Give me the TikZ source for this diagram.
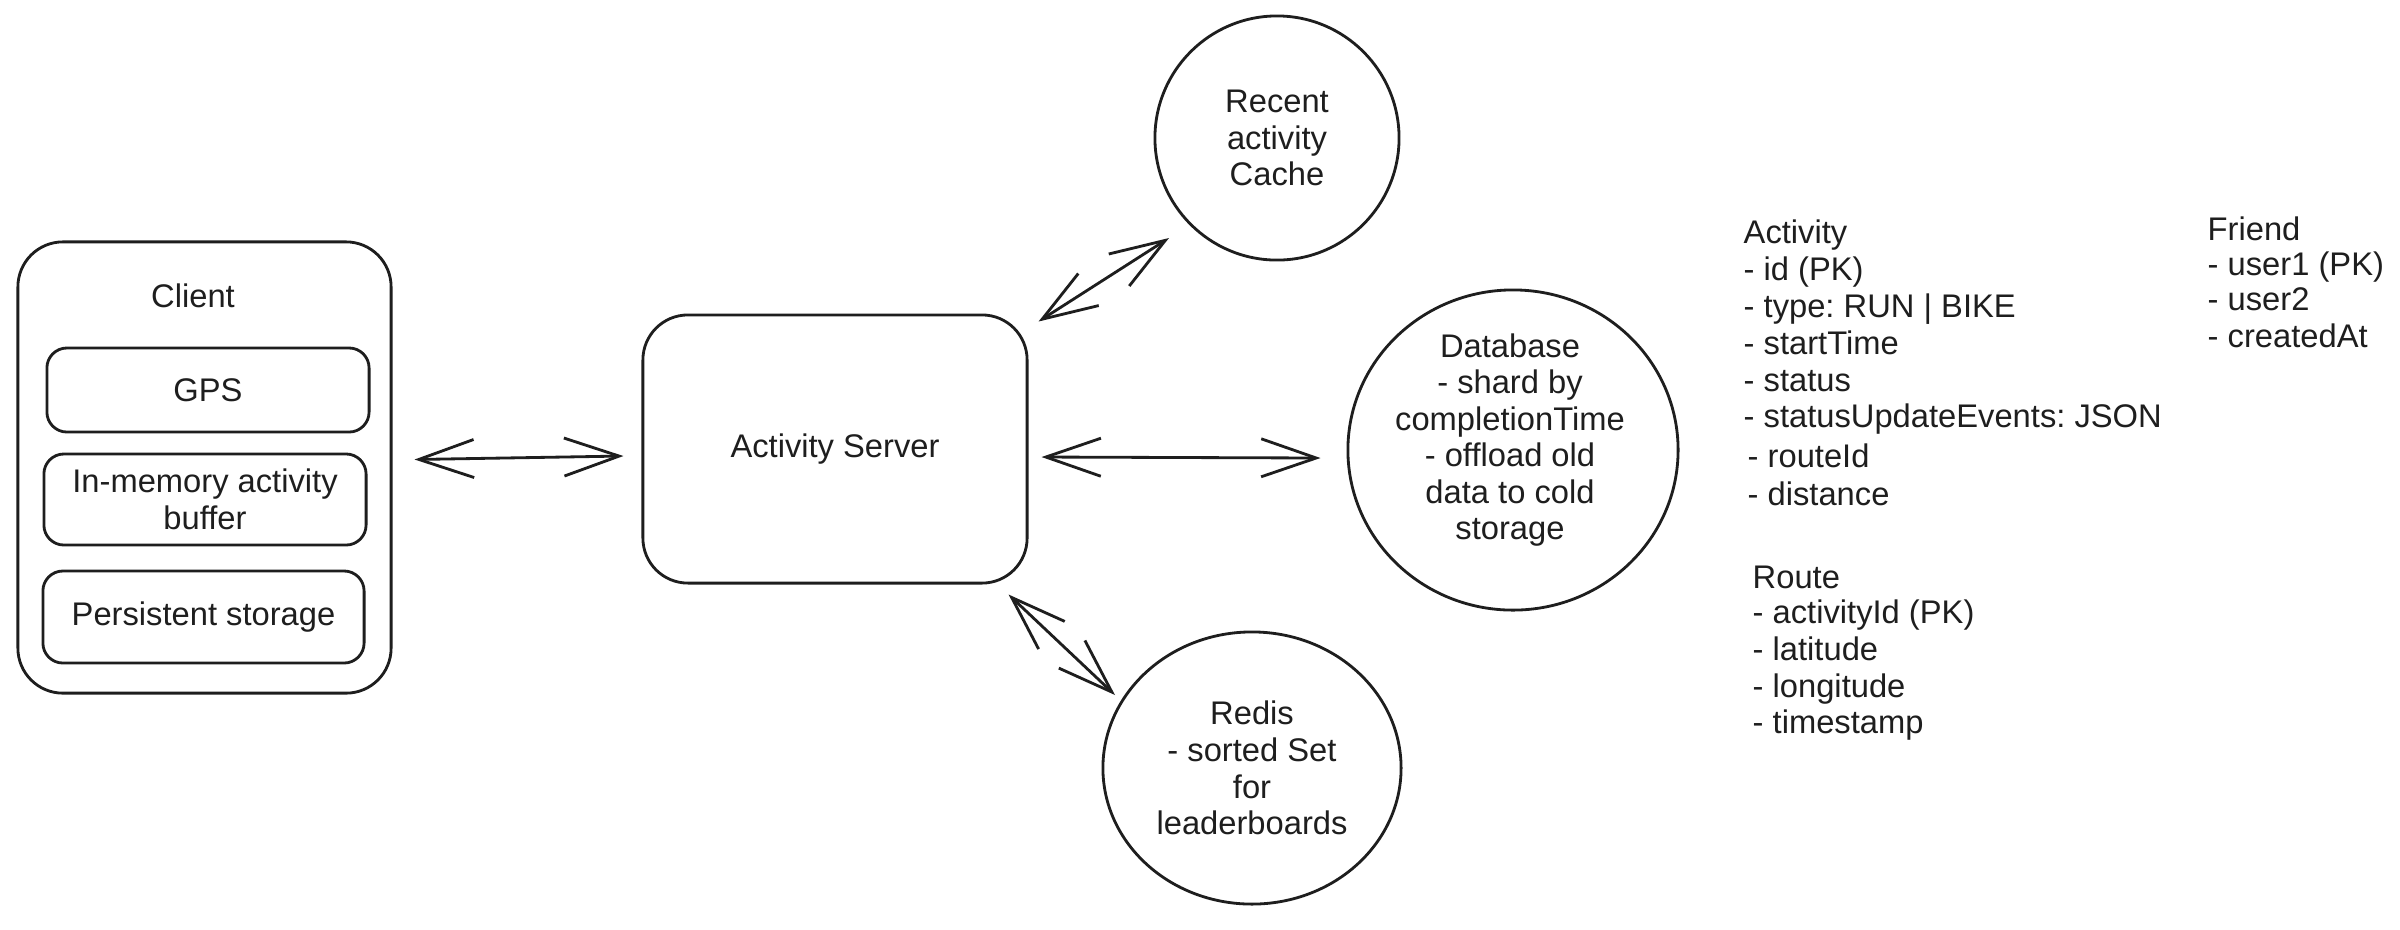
\documentclass[tikz,border=0pt]{standalone}
\usepackage{fontspec}
\setmainfont{Liberation Sans}
\usetikzlibrary{arrows.meta,shapes.geometric,calc}
\newcommand\diagfont{\fontsize{9.3}{10.4}\selectfont\frenchspacing}
\definecolor{ink}{HTML}{1E1E1E}
\begin{document}
\begin{tikzpicture}[x=0.01cm,y=-0.01cm,
  roundbox/.style={draw=ink, line width=0.8pt, rounded corners=0.2cm, inner sep=0pt, font=\diagfont, text=ink, align=center},
  bigbox/.style={roundbox, rounded corners=0.45cm},
  store/.style={draw=ink, line width=0.8pt, inner sep=0pt, font=\diagfont, text=ink, align=center},
  plaintext/.style={font=\diagfont, text=ink, inner sep=0pt, align=center},
  schema/.style={font=\diagfont, text=ink, inner sep=0pt, anchor=base west},
  biarrow/.style={draw=ink, line width=0.8pt, {Straight Barb[length=0.55cm,width=0.38cm]}-{Straight Barb[length=0.55cm,width=0.38cm]}}
]
\useasboundingbox[fill=white] (0,0) rectangle (2400,929);

% Client
\node[bigbox, minimum width=3.73cm, minimum height=4.51cm] (client) at (204.5,467.5) {};
\node[plaintext, anchor=base] (clientlbl) at (193,307) {Client};
\node[roundbox, minimum width=3.22cm, minimum height=0.84cm] (gps) at (208,390) {GPS};
\node[roundbox, minimum width=3.22cm, minimum height=0.91cm] (mem) at (205,499.5) {In-memory activity\\buffer};
\node[roundbox, minimum width=3.21cm, minimum height=0.92cm] (pers) at (203.5,617) {Persistent storage};

% Server
\node[bigbox, minimum width=3.84cm, minimum height=2.68cm] (server) at (835,449) {Activity Server};

% Stores
\node[store, circle, minimum size=2.44cm] (cache) at (1277,138) {Recent\\activity\\Cache};
\node[store, ellipse, minimum width=3.30cm, minimum height=3.20cm] (db) at (1513,450) {};
\node[plaintext] (dbtext) at (1510,440) {Database\\- shard by\\completionTime\\- offload old\\data to cold\\storage};
\node[store, ellipse, minimum width=2.98cm, minimum height=2.72cm] (redis) at (1252,768) {Redis\\- sorted Set\\for\\leaderboards};

% Connectors
\draw[biarrow] ($(client.east)+(22,-8)$) -- ($(server.west)+(-18,7)$);
\draw[biarrow] ($(server.north east)+(10,8)$) -- ($(cache.center)+(-108,100)$);
\draw[biarrow] ($(server.east)+(13,8)$) -- ($(db.west)+(-26,8)$);
\draw[biarrow] ($(server.south east)+(-20,10)$) -- ($(redis.center)+(-137,-73)$);

% Schema: Activity
\foreach \t/\xx/\yy [count=\i] in {Activity/1743/243, - id (PK)/1743/280, - type: RUN | BIKE/1743/317, - startTime/1743/354, - status/1743/391, - statusUpdateEvents: JSON/1743/427, - routeId/1747/467, - distance/1747/505}
  \node[schema] (act\i) at (\xx,\yy) {\t};
% Schema: Route
\foreach \t/\yy [count=\i] in {Route/588, - activityId (PK)/623, - latitude/660, - longitude/697, - timestamp/733}
  \node[schema] (route\i) at (1752,\yy) {\t};
% Schema: Friend
\foreach \t/\yy [count=\i] in {Friend/240, - user1 (PK)/275, - user2/310, - createdAt/347}
  \node[schema] (friend\i) at (2207,\yy) {\t};
\end{tikzpicture}
\end{document}
